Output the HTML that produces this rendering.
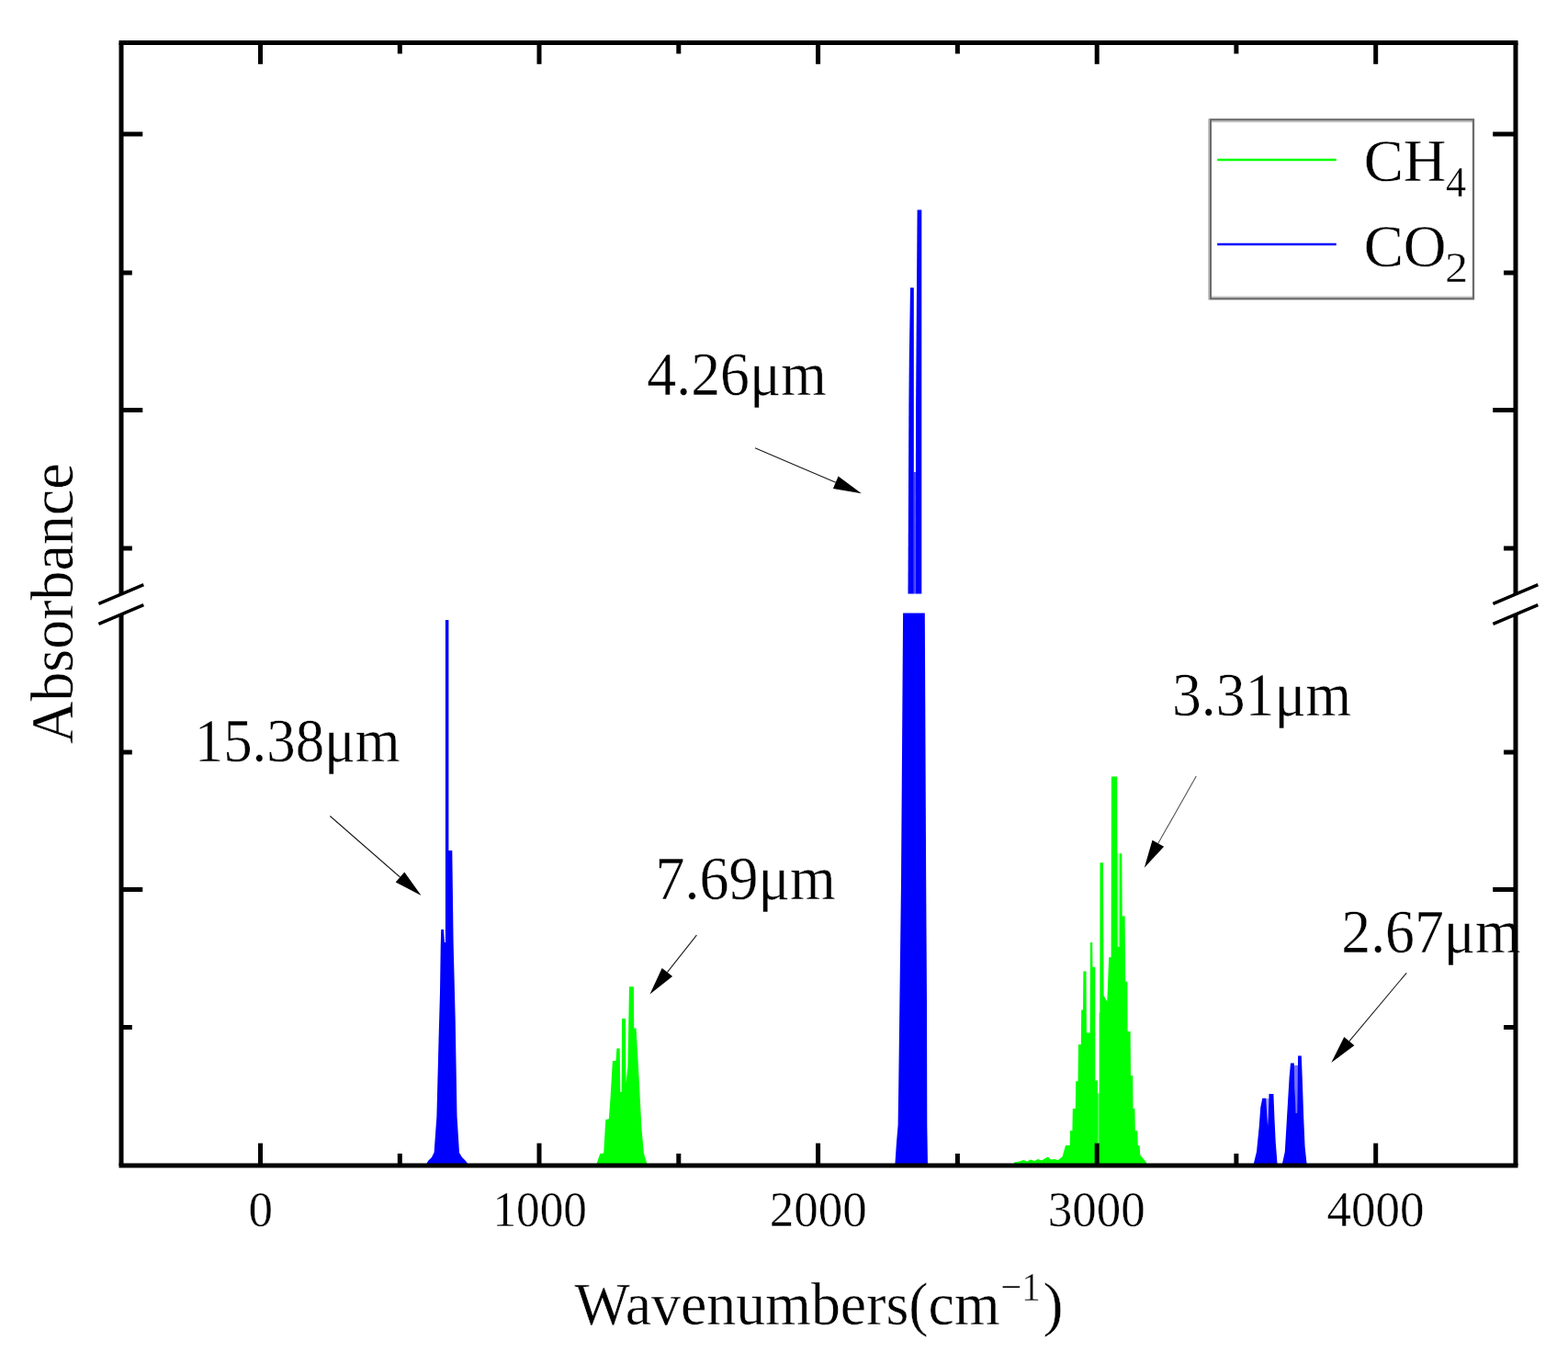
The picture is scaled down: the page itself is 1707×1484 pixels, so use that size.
<!DOCTYPE html>
<html lang="en">
<head>
<meta charset="utf-8">
<title>Absorbance spectra of CH4 and CO2</title>
<style>
html,body{margin:0;padding:0;background:#fff;}
body{width:1707px;height:1484px;overflow:hidden;}
svg{display:block;}
svg text{font-family:"Liberation Serif", "Times New Roman", Times, serif;fill:#000;stroke:#fff;stroke-width:0.4px;paint-order:fill stroke;}
</style>
</head>
<body>
<svg width="1707" height="1484" viewBox="0 0 1707 1484">
<rect x="0" y="0" width="1707" height="1484" fill="#ffffff"/>
<g id="peaks" shape-rendering="auto">
<polygon points="463.4,1269.0 466.0,1264.0 470.0,1260.0 472.6,1254.8 475.4,1215.4 477.6,1130.0 479.0,1080.0 479.7,1031.0 480.2,1012.0 483.0,1012.0 483.9,1026.0 484.9,1026.0 484.9,675.0 488.4,675.0 488.4,926.0 492.3,926.0 493.6,1026.0 495.7,1110.0 497.5,1215.0 500.0,1255.0 503.0,1260.0 507.0,1264.0 510.7,1269.0" fill="#0000ff"/>
<polygon points="648.8,1269.0 653.2,1256.2 657.2,1255.4 659.3,1219.0 662.9,1218.2 664.5,1195.6 666.9,1155.1 670.5,1155.0 671.4,1141.4 674.7,1141.4 675.3,1189.0 676.6,1189.0 677.1,1109.0 681.0,1109.0 681.5,1179.4 683.4,1161.6 685.0,1074.3 689.9,1074.3 690.2,1119.5 692.5,1119.5 694.4,1151.9 696.0,1181.0 698.4,1228.0 700.9,1255.4 704.9,1269.0" fill="#00ff00"/>
<polygon points="974.3,1269.0 975.9,1245.0 977.6,1225.0 978.3,1178.0 979.4,1090.0 981.0,960.0 983.1,667.5 1006.8,667.5 1008.2,960.0 1009.0,1090.0 1009.3,1225.0 1010.0,1269.0" fill="#0000ff"/>
<polygon points="988.5,646.6 989.4,440.0 989.8,390.0 991.0,313.3 994.8,313.3 994.8,646.6" fill="#0000ff"/>
<polygon points="996.6,646.6 997.1,440.0 998.6,228.6 1003.3,228.6 1003.3,646.6" fill="#0000ff"/>
<polygon points="994.8,514.0 996.9,514.0 996.6,646.6 994.8,646.6" fill="#0000ff" opacity="0.75"/>
<polygon points="1104.0,1269.0 1104.0,1265.5 1110.0,1264.5 1114.0,1263.0 1118.0,1264.5 1122.0,1262.5 1126.0,1264.0 1130.0,1262.0 1134.0,1263.5 1138.0,1261.0 1141.0,1259.5 1144.0,1262.5 1148.0,1262.0 1152.0,1263.0 1156.6,1259.3 1160.0,1247.1 1164.7,1247.1 1165.0,1231.0 1167.4,1231.0 1167.8,1207.0 1170.8,1207.0 1171.2,1177.3 1173.5,1177.3 1174.0,1137.3 1176.8,1137.3 1177.2,1099.5 1179.0,1099.5 1179.4,1057.5 1182.5,1057.5 1182.9,1124.5 1186.6,1124.5 1186.9,1026.0 1189.2,1026.0 1189.5,1053.0 1192.3,1053.0 1192.3,1176.4 1195.0,1176.4 1195.0,1190.5 1196.7,1190.5 1196.7,1102.8 1197.3,1102.8 1197.5,939.3 1200.9,939.3 1201.6,1084.0 1205.3,1090.4 1207.2,1042.3 1209.6,1042.3 1209.9,845.5 1216.2,845.5 1216.6,1031.0 1218.7,1031.0 1218.9,929.2 1221.3,929.2 1221.7,997.4 1224.6,997.4 1225.2,1068.7 1227.4,1068.7 1227.6,1123.0 1230.6,1123.0 1231.0,1171.0 1233.2,1171.0 1233.5,1207.0 1235.4,1207.0 1235.8,1231.3 1238.3,1231.3 1238.8,1247.0 1240.5,1247.0 1241.3,1257.8 1248.1,1265.5 1248.1,1269.0" fill="#00ff00"/>
<polygon points="1215.8,929.2 1219.2,929.2 1219.2,1031.0 1215.8,1031.0" fill="#00ff00" opacity="0.3"/>
<line x1="1195.9" y1="1190.5" x2="1195.9" y2="1246" stroke="#fff" stroke-opacity="0.55" stroke-width="1"/>
<polygon points="1364.3,1269.0 1368.0,1254.0 1370.7,1227.0 1372.3,1205.5 1374.3,1195.8 1378.3,1195.8 1379.4,1216.3 1380.1,1226.0 1380.8,1216.3 1381.5,1190.9 1386.4,1190.9 1387.4,1216.3 1388.7,1243.2 1390.7,1269.0" fill="#0000ff"/>
<polygon points="1395.5,1269.0 1398.8,1254.0 1400.4,1227.0 1402.0,1200.0 1403.6,1173.0 1405.0,1157.5 1408.8,1157.5 1409.5,1184.0 1410.6,1212.0 1412.2,1212.0 1413.1,1149.4 1416.8,1149.4 1417.8,1175.3 1419.2,1216.3 1420.6,1248.6 1422.8,1269.0" fill="#0000ff"/>
<polygon points="1378.3,1196.0 1381.5,1196.0 1381.0,1226.0 1379.4,1226.0" fill="#0000ff" opacity="0.35"/>
<polygon points="1408.8,1160.0 1413.1,1160.0 1412.6,1212.0 1410.2,1212.0" fill="#0000ff" opacity="0.55"/>
</g>
<g id="arrows">
<line x1="359.3" y1="888.5" x2="435.5" y2="955.0" stroke="#1a1a1a" stroke-width="1.1"/>
<polygon points="458.5,975.0 430.7,960.4 440.3,949.5" fill="#000"/>
<line x1="758.4" y1="1018.2" x2="726.4" y2="1058.6" stroke="#1a1a1a" stroke-width="1.1"/>
<polygon points="707.5,1082.5 720.7,1054.1 732.1,1063.1" fill="#000"/>
<line x1="822.0" y1="487.8" x2="909.8" y2="525.3" stroke="#1a1a1a" stroke-width="1.1"/>
<polygon points="937.8,537.3 906.9,532.0 912.6,518.6" fill="#000"/>
<line x1="1302.3" y1="844.9" x2="1260.8" y2="918.3" stroke="#555" stroke-width="1.1"/>
<polygon points="1245.8,944.8 1254.5,914.7 1267.1,921.8" fill="#000"/>
<line x1="1531.2" y1="1059.3" x2="1468.9" y2="1133.6" stroke="#1a1a1a" stroke-width="1.1"/>
<polygon points="1449.3,1157.0 1463.3,1129.0 1474.4,1138.3" fill="#000"/>
</g>
<g id="legend" fill="none">
<rect x="1317.9" y="130.3" width="286.1" height="195.0" fill="#fff" stroke="none"/>
<line x1="1315.9" y1="129.2" x2="1315.9" y2="326.4" stroke="#bdbdbd" stroke-width="1.6"/>
<line x1="1319" y1="132.4" x2="1603" y2="132.4" stroke="#c4c4c4" stroke-width="1.8"/>
<line x1="1319" y1="323.3" x2="1603" y2="323.3" stroke="#c4c4c4" stroke-width="1.8"/>
<rect x="1317.9" y="130.3" width="286.1" height="195.0" stroke="#6c6c6c" stroke-width="2.3"/>
<line x1="1325.2" y1="174.0" x2="1454.7" y2="174.0" stroke="#00ff00" stroke-width="2.6"/>
<line x1="1325.2" y1="266.0" x2="1454.7" y2="266.0" stroke="#0000ff" stroke-width="2.6"/>
</g>
<g id="legendtext">
<text transform="translate(1484.66,196.90) scale(0.9793,1.0000)" font-size="66">CH</text>
<text transform="translate(1574.04,214.30) scale(0.9619,1.0000)" font-size="46">4</text>
<text transform="translate(1484.66,290.00) scale(0.9814,1.0000)" font-size="66">CO</text>
<text transform="translate(1572.92,306.60) scale(1.0889,1.0000)" font-size="46">2</text>
</g>
<g id="labels">
<text transform="translate(270.62,1335.30) scale(0.9590,1.008)" font-size="55.3">0</text>
<text transform="translate(536.46,1335.30) scale(0.9270,1.008)" font-size="55.3">1000</text>
<text transform="translate(837.63,1335.30) scale(0.9590,1.008)" font-size="55.3">2000</text>
<text transform="translate(1140.80,1335.30) scale(0.9590,1.008)" font-size="55.3">3000</text>
<text transform="translate(1444.41,1335.30) scale(0.9590,1.008)" font-size="55.3">4000</text>
</g>
<g id="notes">
<text transform="translate(211.79,829.00) scale(0.9518,1.0300)" font-size="66">15.38μm</text>
<text transform="translate(713.52,978.90) scale(0.9706,1.0200)" font-size="66">7.69μm</text>
<text transform="translate(704.33,429.60) scale(0.9665,1.0200)" font-size="66">4.26μm</text>
<text transform="translate(1275.90,778.90) scale(0.9657,1.0100)" font-size="66">3.31μm</text>
<text transform="translate(1460.30,1036.90) scale(0.9660,1.0300)" font-size="66">2.67μm</text>
</g>
<g id="titles">
<text transform="translate(625.50,1442.20) scale(0.9682,1.0000)" font-size="66">Wavenumbers(cm</text>
<text transform="translate(1089.27,1415.70) scale(0.9163,1.0000)" font-size="44.5">−1</text>
<text transform="translate(1135.49,1442.20) scale(1.0059,1.0000)" font-size="66">)</text>
<text transform="translate(78.60,809.77) rotate(-90) scale(0.9686,1.0000)" font-size="66">Absorbance</text>
</g>
<g id="axes" stroke="#000" stroke-width="5.0" fill="none" stroke-linecap="butt">
<line x1="129.5" y1="46.5" x2="1652.5" y2="46.5"/>
<line x1="129.5" y1="1269.0" x2="1652.5" y2="1269.0"/>
<line x1="132.0" y1="46.5" x2="132.0" y2="647.5"/>
<line x1="132.0" y1="668.5" x2="132.0" y2="1269.0"/>
<line x1="1650.0" y1="46.5" x2="1650.0" y2="647.5"/>
<line x1="1650.0" y1="668.5" x2="1650.0" y2="1269.0"/>
</g>
<g id="ticks" stroke="#000" stroke-width="5" fill="none">
<line x1="283.5" y1="1269.0" x2="283.5" y2="1244.7"/>
<line x1="283.5" y1="46.5" x2="283.5" y2="69.8"/>
<line x1="435.3" y1="1269.0" x2="435.3" y2="1256.0"/>
<line x1="435.3" y1="46.5" x2="435.3" y2="58.5"/>
<line x1="587.0" y1="1269.0" x2="587.0" y2="1244.7"/>
<line x1="587.0" y1="46.5" x2="587.0" y2="69.8"/>
<line x1="738.8" y1="1269.0" x2="738.8" y2="1256.0"/>
<line x1="738.8" y1="46.5" x2="738.8" y2="58.5"/>
<line x1="890.6" y1="1269.0" x2="890.6" y2="1244.7"/>
<line x1="890.6" y1="46.5" x2="890.6" y2="69.8"/>
<line x1="1042.4" y1="1269.0" x2="1042.4" y2="1256.0"/>
<line x1="1042.4" y1="46.5" x2="1042.4" y2="58.5"/>
<line x1="1194.2" y1="1269.0" x2="1194.2" y2="1244.7"/>
<line x1="1194.2" y1="46.5" x2="1194.2" y2="69.8"/>
<line x1="1345.9" y1="1269.0" x2="1345.9" y2="1256.0"/>
<line x1="1345.9" y1="46.5" x2="1345.9" y2="58.5"/>
<line x1="1497.7" y1="1269.0" x2="1497.7" y2="1244.7"/>
<line x1="1497.7" y1="46.5" x2="1497.7" y2="69.8"/>
<line x1="132.0" y1="146.0" x2="155.3" y2="146.0"/>
<line x1="1650.0" y1="146.0" x2="1625.2" y2="146.0"/>
<line x1="132.0" y1="297.0" x2="143.8" y2="297.0"/>
<line x1="1650.0" y1="297.0" x2="1637.0" y2="297.0"/>
<line x1="132.0" y1="446.5" x2="155.3" y2="446.5"/>
<line x1="1650.0" y1="446.5" x2="1625.2" y2="446.5"/>
<line x1="132.0" y1="597.0" x2="143.8" y2="597.0"/>
<line x1="1650.0" y1="597.0" x2="1637.0" y2="597.0"/>
<line x1="132.0" y1="819.0" x2="143.8" y2="819.0"/>
<line x1="1650.0" y1="819.0" x2="1637.0" y2="819.0"/>
<line x1="132.0" y1="968.5" x2="155.3" y2="968.5"/>
<line x1="1650.0" y1="968.5" x2="1625.2" y2="968.5"/>
<line x1="132.0" y1="1118.5" x2="143.8" y2="1118.5"/>
<line x1="1650.0" y1="1118.5" x2="1637.0" y2="1118.5"/>
</g>
<g id="breaks" stroke="#000" stroke-width="3.5" fill="none">
<line x1="107.4" y1="657.4" x2="156.3" y2="636.7"/>
<line x1="107.4" y1="679.3" x2="156.3" y2="658.6"/>
<line x1="1625.4" y1="657.4" x2="1674.3" y2="636.7"/>
<line x1="1625.4" y1="679.3" x2="1674.3" y2="658.6"/>
</g>
</svg>
</body>
</html>
